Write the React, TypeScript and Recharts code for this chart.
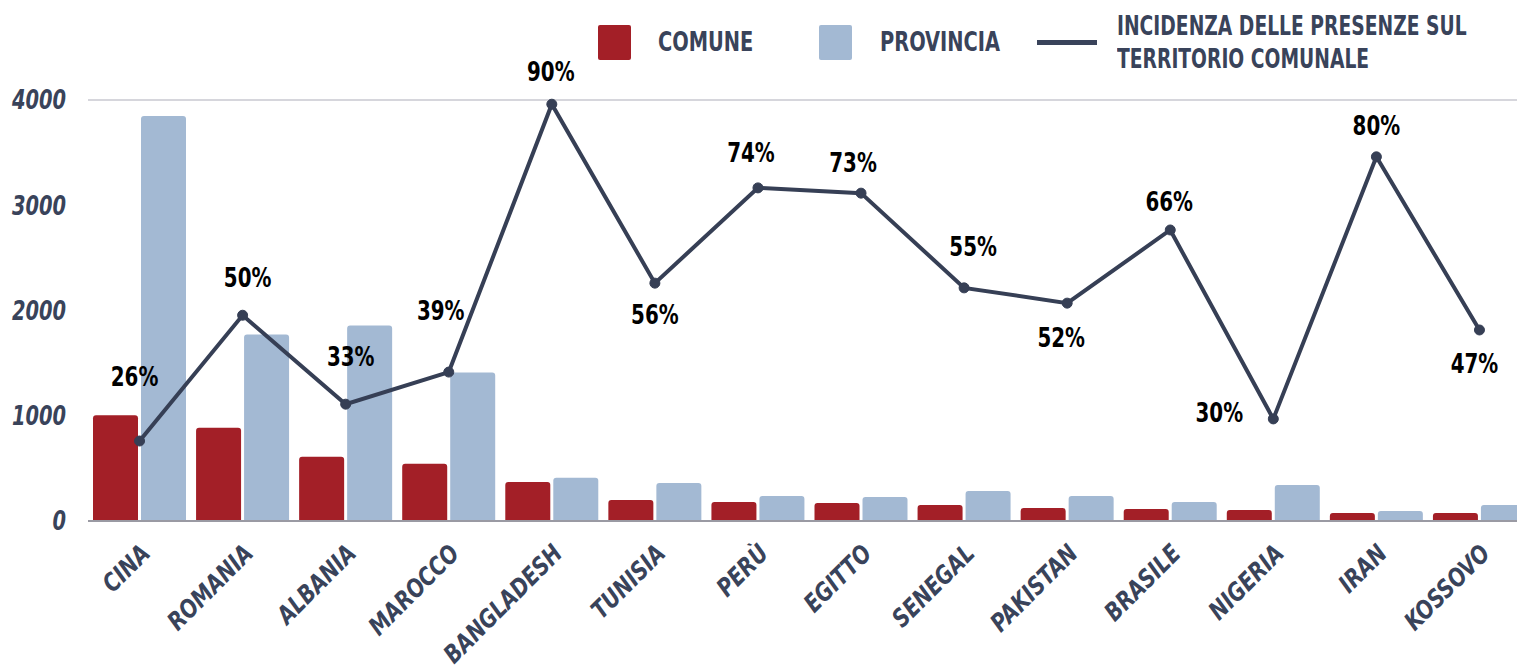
import { ComposedChart, Bar, Line, XAxis, YAxis, CartesianGrid, LabelList } from "recharts"

const countries = [
  "CINA", "ROMANIA", "ALBANIA", "MAROCCO", "BANGLADESH", "TUNISIA", "PERÙ",
  "EGITTO", "SENEGAL", "PAKISTAN", "BRASILE", "NIGERIA", "IRAN", "KOSSOVO",
]
const comune = [1005, 886, 610, 543, 371, 200, 181, 171, 152, 124, 114, 105, 76, 76]
const provincia = [3848, 1771, 1857, 1410, 410, 362, 238, 229, 286, 238, 181, 343, 95, 152]
const incidenza = [26.2, 50.1, 33.2, 39.3, 90.2, 56.2, 74.3, 73.3, 55.3, 52.4, 66.3, 30.4, 80.2, 47.3]
const yTicks = [0, 1000, 2000, 3000, 4000]

// where each percentage sits relative to its point
const labelOffsets: Array<[number, number]> = [
  [-5, -64], [5, -37], [5, -47], [-8, -61], [-1, -32], [0, 32], [-7, -35],
  [-8, -30], [9, -40], [-6, 35], [-1, -28], [-54, -6], [0, -30], [-5, 34],
]

const data = countries.map((name, i) => ({
  name,
  comune: comune[i],
  provincia: provincia[i],
  incidenza: incidenza[i],
}))

const FONT = "'DejaVu Sans Condensed', 'DejaVu Sans', sans-serif"
const NAVY = "#39435a"
const RED = "#a31f27"
const BLUE = "#a3b9d3"

function CountryTick({ x, y, payload }: any) {
  return (
    <g transform={`translate(${x + 12},${y + 26})`}>
      <text
        textAnchor="end"
        transform="rotate(-45) scale(0.9,1)"
        fill={NAVY}
        fontFamily={FONT}
        fontWeight="bold"
        fontStyle="italic"
        fontSize={25}
      >
        {payload.value}
      </text>
    </g>
  )
}

function ValueTick({ x, y, payload }: any) {
  return (
    <g transform={`translate(${x},${y})`}>
      <text
        textAnchor="end"
        dominantBaseline="central"
        transform="scale(0.8,1)"
        fill={NAVY}
        fontFamily={FONT}
        fontWeight="bold"
        fontStyle="italic"
        fontSize={27}
      >
        {payload.value}
      </text>
    </g>
  )
}

function PercentLabel({ x, y, value, index }: any) {
  const [dx, dy] = labelOffsets[index] ?? [0, -30]
  return (
    <g transform={`translate(${x + dx},${y + dy})`}>
      <text
        textAnchor="middle"
        dominantBaseline="central"
        transform="scale(0.85,1)"
        fill="#000"
        fontFamily={FONT}
        fontWeight="bold"
        fontSize={26}
      >
        {Math.round(value)}%
      </text>
    </g>
  )
}

function ChartLegend() {
  const text = {
    position: "absolute" as const,
    fontFamily: FONT,
    fontWeight: "bold" as const,
    fontSize: 26,
    color: NAVY,
    whiteSpace: "nowrap" as const,
    transform: "scaleX(0.83)",
    transformOrigin: "left center",
  }
  return (
    <div style={{ position: "absolute", left: 0, top: 0, width: 1517, height: 90, pointerEvents: "none" }}>
      <div style={{ position: "absolute", left: 598, top: 25, width: 33, height: 35, background: RED, borderRadius: 2 }} />
      <div style={{ ...text, left: 658, top: 26, lineHeight: "32px" }}>COMUNE</div>
      <div style={{ position: "absolute", left: 819, top: 25, width: 33, height: 35, background: BLUE, borderRadius: 2 }} />
      <div style={{ ...text, left: 880, top: 26, lineHeight: "32px" }}>PROVINCIA</div>
      <div style={{ position: "absolute", left: 1037, top: 40, width: 60, height: 5, background: NAVY }} />
      <div style={{ ...text, left: 1117, top: 10, lineHeight: "33px", transform: "scaleX(0.8)" }}>
        INCIDENZA DELLE PRESENZE SUL
        <br />
        TERRITORIO COMUNALE
      </div>
    </div>
  )
}

export default function App() {
  return (
    <div style={{ position: "absolute", left: 0, top: 0, width: 1517, height: 672, overflow: "hidden", background: "#fff" }}>
      <ComposedChart
        width={1531}
        height={672}
        data={data}
        margin={{ top: 100, right: 0, bottom: 0, left: 0 }}
        barSize={45}
        barGap={3}
      >
        <CartesianGrid stroke="#d6d6dc" strokeWidth={2} vertical={false} />
        <XAxis
          dataKey="name"
          interval={0}
          height={151}
          tickLine={false}
          axisLine={{ stroke: "#9a9aa3", strokeWidth: 2 }}
          tick={<CountryTick />}
        />
        <YAxis
          yAxisId="left"
          width={88}
          domain={[0, 4000]}
          ticks={yTicks}
          axisLine={false}
          tickLine={false}
          tickSize={0}
          tickMargin={22}
          tick={<ValueTick />}
        />
        <YAxis yAxisId="right" orientation="right" hide domain={[11, 91]} />
        <Bar yAxisId="left" dataKey="comune" name="Comune" fill={RED} radius={[3, 3, 0, 0]} isAnimationActive={false} />
        <Bar yAxisId="left" dataKey="provincia" name="Provincia" fill={BLUE} radius={[3, 3, 0, 0]} isAnimationActive={false} />
        <Line
          yAxisId="right"
          dataKey="incidenza"
          name="Incidenza delle presenze sul territorio comunale"
          stroke="#363f55"
          strokeWidth={4}
          dot={{ r: 5, fill: "#363f55", stroke: "#363f55", strokeWidth: 1 }}
          isAnimationActive={false}
        >
          <LabelList dataKey="incidenza" content={<PercentLabel />} />
        </Line>
      </ComposedChart>
      <ChartLegend />
    </div>
  )
}
